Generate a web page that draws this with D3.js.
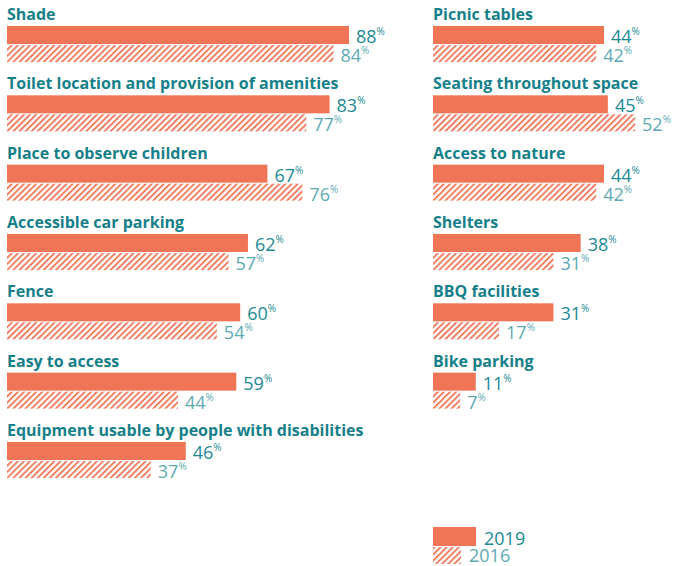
<!DOCTYPE html>
<html><head><meta charset="utf-8">
<script src="https://cdn.jsdelivr.net/npm/d3@7"></script>
<style>body{margin:0;background:#fff}svg{display:block}text{font-family:"Open Sans",sans-serif}</style>
</head><body><svg id="c" width="690" height="566"></svg>
<script>
const leftCategories = ["Shade","Toilet location and provision of amenities","Place to observe children","Accessible car parking","Fence","Easy to access","Equipment usable by people with disabilities"];
const left2019 = [88,83,67,62,60,59,46];
const left2016 = [84,77,76,57,54,44,37];
const rightCategories = ["Picnic tables","Seating throughout space","Access to nature","Shelters","BBQ facilities","Bike parking"];
const right2019 = [44,45,44,38,31,11];
const right2016 = [42,52,42,31,17,7];
const seriesNames = ["2019","2016"];

const C = {bar:"#f07557", title:"#16808a", v19:"#1d8a94", v16:"#5eaab4"};
const svg = d3.select("#c");
const defs = svg.append("defs");
const pat = defs.append("pattern").attr("id","hatch").attr("patternUnits","userSpaceOnUse")
  .attr("width",4.3).attr("height",4.3).attr("patternTransform","rotate(45)");
pat.append("rect").attr("width",4.3).attr("height",4.3).attr("fill","#fff");
pat.append("line").attr("x1",1).attr("x2",1).attr("y1",0).attr("y2",4.3).attr("stroke",C.bar).attr("stroke-width",1.8);

const x = d3.scaleLinear().domain([0,88]).range([0,342]);
const pitch = 69.33;

function panel(x0, cats, v19, v16){
  const y = d3.scaleBand().domain(cats).range([0, cats.length*pitch]);
  const g = svg.append("g").attr("transform",`translate(${x0},0)`);
  const rows = g.selectAll("g.row").data(cats.map((c,i)=>({c, a:v19[i], b:v16[i]})))
    .join("g").attr("transform",d=>`translate(0,${y(d.c)})`);
  rows.append("text").attr("x",0).attr("y",20).attr("fill",C.title)
    .attr("font-size",16).attr("font-weight",700).text(d=>d.c);
  rows.append("rect").attr("x",0).attr("y",26).attr("height",18).attr("width",d=>x(d.a)).attr("fill",C.bar);
  rows.append("rect").attr("x",0).attr("y",45).attr("height",17).attr("width",d=>x(d.b)).attr("fill","url(#hatch)");
  function lab(acc, yy, col){
    const t = rows.append("text").attr("x",d=>x(acc(d))+7).attr("y",yy).attr("fill",col).attr("font-size",18);
    t.append("tspan").text(d=>acc(d));
    t.append("tspan").attr("font-size",10).attr("dy",-8).text("%");
  }
  lab(d=>d.a, 43, C.v19);
  lab(d=>d.b, 62, C.v16);
}
panel(7, leftCategories, left2019, left2016);
panel(433, rightCategories, right2019, right2016);

const lg = svg.append("g").attr("transform","translate(433,0)");
lg.append("rect").attr("x",0).attr("y",527).attr("width",43).attr("height",19).attr("fill",C.bar);
lg.append("text").attr("x",51).attr("y",545).attr("font-size",18).attr("fill",C.v19).text(seriesNames[0]);
lg.append("rect").attr("x",0).attr("y",547).attr("width",28).attr("height",17).attr("fill","url(#hatch)");
lg.append("text").attr("x",36).attr("y",562).attr("font-size",18).attr("fill",C.v16).text(seriesNames[1]);
</script></body></html>
